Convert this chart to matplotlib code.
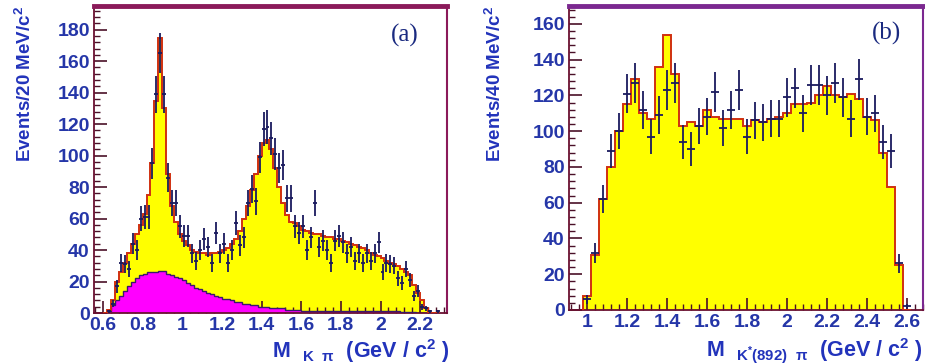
import numpy as np
import matplotlib
matplotlib.use('Agg')
import matplotlib.pyplot as plt
from matplotlib.ticker import MultipleLocator, FuncFormatter

plt.rcParams['font.family'] = ['Liberation Sans', 'DejaVu Sans']
plt.rcParams['mathtext.fontset'] = 'custom'
plt.rcParams['mathtext.rm'] = 'Liberation Sans:bold'
plt.rcParams['mathtext.it'] = 'Liberation Sans:bold'
plt.rcParams['mathtext.bf'] = 'Liberation Sans:bold'

# ---------------- Panel (a): M(K pi), 20 MeV bins from 0.60 ----------------
a_start, a_width = 0.60, 0.02
a_fit = [0, 2, 8, 20, 26, 32, 38, 44, 50, 56,
         63, 75, 95, 135, 175, 130, 88, 68, 58, 50,
         46, 43, 40, 39, 38, 38, 37, 38, 38, 39,
         40, 41, 44, 47, 52, 60, 68, 78, 88, 100,
         108, 110, 104, 92, 80, 70, 62, 58, 57, 55,
         53, 52, 51, 50, 50, 49, 48, 48, 47, 47,
         46, 45, 44, 43, 42, 41, 40, 38, 37, 36,
         35, 33, 32, 31, 30, 28, 26, 24, 18, 13,
         8, 3, 0, 0, 0]
a_bkg = [0, 1, 5, 8, 11, 14, 17, 20, 22, 24,
         25, 26, 26, 26, 27, 27, 25, 24, 23, 22,
         21, 19, 18, 16, 15, 14, 13, 12, 11, 10,
         9, 9, 8, 7, 7, 6, 6, 5, 5, 4,
         4, 4, 3, 3, 3, 3, 2, 2, 2, 2,
         1.5, 1.5, 1.5, 1, 1, 1, 1, 1, 1, 1,
         1, 1, 1, 1, 1, 1, 1, 1, 1, 1,
         1, 1, 1, 1, 1, 0.5, 0.5, 0.5, 0.5, 0,
         0, 0, 0, 0, 0]
a_data = [0, 1, 6, 17, 32, 31, 28, 44, 40, 60,
          61, 61, 95, 139, 165, 139, 86, 70, 70, 55,
          49, 49, 38, 33, 40, 47, 42, 32, 51, 38,
          44, 32, 40, 57, 43, 48, 70, 79, 71, 99,
          117, 118, 111, 101, 92, 94, 73, 73, 55, 51,
          55, 40, 48, 70, 42, 46, 40, 32, 46, 49,
          45, 38, 42, 33, 38, 32, 38, 33, 38, 45,
          26, 32, 31, 30, 22, 19, 28, 21, 11, 14,
          4, 3, 1, 0, 1]
a_xticks = [0.6, 0.8, 1.0, 1.2, 1.4, 1.6, 1.8, 2.0, 2.2]
a_yticks = [0, 20, 40, 60, 80, 100, 120, 140, 160, 180]

# ---------------- Panel (b): M(K*(892) pi), 40 MeV bins from 0.98 ----------------
b_start, b_width = 0.98, 0.04
b_fit = [8, 31, 62, 80, 100, 115, 129, 110, 107, 136,
         154, 132, 103, 105, 103, 112, 108, 107, 107, 107,
         103, 106, 105, 107, 108, 110, 115, 115, 116, 120,
         125, 120, 119, 121, 118, 108, 106, 88, 69, 25,
         0]
b_data = [6, 32, 62, 89, 100, 121, 127, 112, 97, 109,
          123, 127, 94, 90, 103, 108, 122, 102, 112, 123,
          97, 106, 105, 107, 107, 119, 124, 110, 126, 126,
          120, 127, 119, 107, 129, 108, 110, 94, 89, 26,
          2]
b_xticks = [1.0, 1.2, 1.4, 1.6, 1.8, 2.0, 2.2, 2.4, 2.6]
b_yticks = [0, 20, 40, 60, 80, 100, 120, 140, 160]

TICK_COLOR = '#2536A8'
LABEL_COLOR = '#2233BB'
FILL_YELLOW = '#FFFF00'
FIT_LINE = '#D03010'
MAGENTA = '#FF00FF'
DATA_COLOR = '#1A1A5E'

fig = plt.figure(figsize=(9.25, 3.64), dpi=100)
axa = fig.add_axes([0.1016, 0.140, 0.3816, 0.8434])
axb = fig.add_axes([0.6151, 0.1484, 0.3827, 0.8352])


def draw_panel(ax, start, width, fit, data, bkg=None):
    n = len(fit)
    edges = start + width * np.arange(n + 1)
    centers = 0.5 * (edges[:-1] + edges[1:])
    fit = np.asarray(fit, float)
    data = np.asarray(data, float)
    ax.stairs(fit, edges, fill=True, color=FILL_YELLOW, zorder=1)
    if bkg is not None:
        bkg = np.asarray(bkg, float)
        ax.stairs(bkg, edges, fill=True, color=MAGENTA, zorder=2)
        ax.stairs(bkg, edges, color='#3A1A6A', lw=1.0, zorder=3)
    ax.stairs(fit, edges, color=FIT_LINE, lw=1.4, zorder=4)
    m = data > 0
    ax.errorbar(centers[m], data[m], yerr=np.sqrt(data[m]), xerr=width / 2,
                fmt='none', ecolor=DATA_COLOR, elinewidth=1.3, capsize=0, zorder=5)


def style(ax, xticks, yticks, xlim, ylim, frame_color):
    ax.set_xlim(*xlim)
    ax.set_ylim(*ylim)
    ax.set_xticks(xticks)
    ax.set_yticks(yticks)
    ax.xaxis.set_minor_locator(MultipleLocator(0.04))
    ax.yaxis.set_minor_locator(MultipleLocator(4))
    fmt = FuncFormatter(lambda v, p: f'{v:g}')
    ax.xaxis.set_major_formatter(fmt)
    ax.tick_params(which='both', direction='in', color='#4A1028', top=False, right=False)
    ax.tick_params(which='major', length=9, width=1.2, labelsize=14,
                   labelcolor=TICK_COLOR, pad=3)
    ax.tick_params(which='minor', length=4.5, width=1.0)
    for lab in ax.get_xticklabels() + ax.get_yticklabels():
        lab.set_fontweight('bold')
    ax.spines['left'].set_color('#6A1030')
    ax.spines['bottom'].set_color('#6A1030')
    ax.spines['left'].set_linewidth(1.3)
    ax.spines['bottom'].set_linewidth(1.3)
    ax.spines['top'].set_color(frame_color)
    ax.spines['top'].set_linewidth(3.5)
    ax.spines['right'].set_color(frame_color)
    ax.spines['right'].set_linewidth(1.5)


draw_panel(axa, a_start, a_width, a_fit, a_data, a_bkg)
style(axa, a_xticks, a_yticks, (0.555, 2.335), (0, 195), '#8B1A5A')
draw_panel(axb, b_start, b_width, b_fit, b_data)
style(axb, b_xticks, b_yticks, (0.91, 2.68), (0, 170), '#7B2890')

axa.set_ylabel('Events/20 MeV/c$^{2}$', loc='top', color=LABEL_COLOR,
               fontweight='bold', fontsize=13.5)
axa.yaxis.set_label_coords(-0.167, 1.0)
axb.set_ylabel('Events/40 MeV/c$^{2}$', loc='top', color=LABEL_COLOR,
               fontweight='bold', fontsize=13.5)
axb.yaxis.set_label_coords(-0.181, 1.0)

axa.set_xlabel(r'M  $_{\mathrm{K\ \ \pi}}$  (GeV / c$^{\mathrm{2}}$ )', loc='right',
               color=LABEL_COLOR, fontweight='bold', fontsize=15.5)
axa.xaxis.set_label_coords(1.005, -0.08)
axb.set_xlabel(r'M  $_{\mathrm{K^{*}(892)\ \ \pi}}$  (GeV / c$^{\mathrm{2}}$ )', loc='right',
               color=LABEL_COLOR, fontweight='bold', fontsize=15.5)
axb.xaxis.set_label_coords(1.0, -0.085)

axa.text(0.881, 0.905, '(a)', transform=axa.transAxes, family='Liberation Serif',
         fontsize=18, color='#1A2A80', ha='center', va='center')
axb.text(0.898, 0.911, '(b)', transform=axb.transAxes, family='Liberation Serif',
         fontsize=18, color='#1A2A80', ha='center', va='center')

fig.savefig('out.png', dpi=100)
